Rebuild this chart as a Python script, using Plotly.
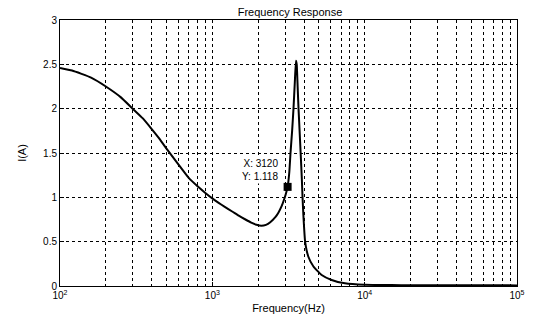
import math
import plotly.graph_objects as go

freq_hz = [100, 120, 160, 200, 250, 300, 350, 400, 450, 500, 600, 700, 800, 900, 1000,
           1100, 1200, 1350, 1500, 1650, 1800, 1950, 2100, 2250, 2400, 2600, 2720, 2850,
           2950, 3050, 3120, 3200, 3260, 3340, 3410, 3480, 3540, 3580, 3630, 3680, 3740,
           3800, 3870, 3910, 3960, 4065, 4270, 4610, 5220, 6070, 7420, 10000, 15000,
           20000, 50000, 100000]
current_a = [2.46, 2.43, 2.35, 2.25, 2.13, 2.00, 1.89, 1.77, 1.66, 1.55, 1.37, 1.22, 1.125,
             1.05, 0.988, 0.938, 0.895, 0.84, 0.79, 0.75, 0.715, 0.69, 0.68, 0.69, 0.72,
             0.78, 0.83, 0.90, 0.97, 1.05, 1.118, 1.28, 1.5, 1.75, 2.0, 2.3, 2.54, 2.50,
             2.25, 2.0, 1.75, 1.5, 1.2, 1.0, 0.8, 0.5, 0.33, 0.22, 0.124, 0.068, 0.03,
             0.013, 0.01, 0.009, 0.008, 0.007]

tip_x = 3120
tip_y = 1.118

decade_vals = [100, 1000, 10000, 100000]
decade_text = ["10<sup>2</sup>", "10<sup>3</sup>", "10<sup>4</sup>", "10<sup>5</sup>"]
minor_vals = [m * d for d in decade_vals[:-1] for m in range(2, 10)]

y_ticks = [0, 0.5, 1, 1.5, 2, 2.5, 3]
y_text = ["0", "0.5", "1", "1.5", "2", "2.5", "3"]

fig = go.Figure()
fig.add_trace(go.Scatter(x=freq_hz, y=current_a, mode="lines", line_shape="spline",
                         line=dict(color="black", width=2, smoothing=0.4), showlegend=False))
fig.add_trace(go.Scatter(x=[tip_x], y=[tip_y], mode="markers",
                         marker=dict(symbol="square", size=8, color="black"),
                         showlegend=False))
fig.add_annotation(x=math.log10(tip_x), y=tip_y, xref="x", yref="y", showarrow=False,
                   text=f"X: {tip_x}<br>Y: {tip_y}", xanchor="right", yanchor="middle",
                   align="right", xshift=-8, yshift=17, bgcolor="white", borderpad=1,
                   font=dict(family="Liberation Sans, Arial", size=10, color="black"))

fig.update_layout(
    width=537, height=326,
    margin=dict(l=60, r=17, t=20, b=40),
    paper_bgcolor="white", plot_bgcolor="white",
    font=dict(family="Liberation Sans, Arial", size=10, color="black"),
    title=dict(text="Frequency Response", x=0.54, xanchor="center", y=0.975, yanchor="top",
               font=dict(size=11, color="black")),
    xaxis=dict(type="log", range=[2, 5], tickmode="array", tickvals=decade_vals,
               ticktext=decade_text,
               showgrid=True, gridcolor="black", griddash="dot", gridwidth=1,
               minor=dict(tickmode="array", tickvals=minor_vals, showgrid=True,
                          gridcolor="black", griddash="dot", gridwidth=1,
                          ticks="inside", ticklen=2, tickcolor="black"),
               showline=True, linecolor="black", linewidth=1, mirror=True,
               ticks="inside", ticklen=4, tickcolor="black", zeroline=False,
               title=dict(text="Frequency(Hz)", standoff=4, font=dict(size=11))),
    yaxis=dict(range=[0, 3], tickvals=y_ticks, ticktext=y_text,
               showgrid=True, gridcolor="black", griddash="3px,3px", gridwidth=1,
               showline=True, linecolor="black", linewidth=1, mirror=True,
               ticks="inside", ticklen=4, tickcolor="black", zeroline=False,
               title=dict(text="I(A)", standoff=14, font=dict(size=11))),
)

fig.write_html("out.html")
